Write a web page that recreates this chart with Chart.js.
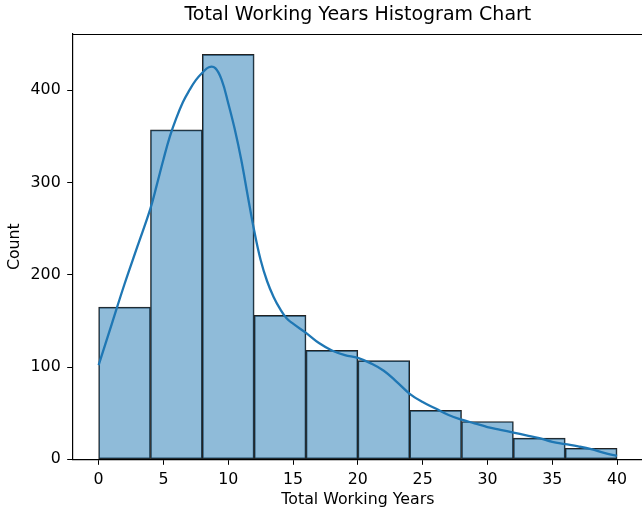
<!DOCTYPE html>
<html>
<head>
<meta charset="utf-8">
<script src="https://cdn.jsdelivr.net/npm/chart.js@4/dist/chart.umd.min.js"></script>
<style>
  html, body { margin: 0; padding: 0; background: #fff; overflow: hidden; }
  canvas { display: block; }
</style>
</head>
<body>
<canvas id="chart" width="643" height="514"></canvas>
<script>
// Histogram bins: left edge of each bin and its width (years)
const binStarts = [0, 4, 8, 12, 16, 20, 24, 28, 32, 36];
const binWidth = 4;
// Number of employees in each bin
const counts = [165, 357, 439, 156, 118, 107, 53, 41, 23, 12];

// Kernel density estimate, scaled to counts
const kdeX = [0, 1, 2, 3, 4, 4.5, 5, 5.5, 6, 6.5, 7, 7.5, 8, 8.5, 9, 9.5, 10, 10.5, 11, 11.5, 12, 12.5, 13, 13.5, 14, 14.5, 15,
              16, 17, 18, 19, 20, 21, 22, 23, 24, 25, 26, 27, 28, 29, 30, 31, 32, 33, 34, 35, 36, 37, 38, 39, 40];
const kdeY = [102, 146, 190, 231, 272, 298, 325, 350, 370, 387, 400, 411, 419, 425, 424, 411, 386, 358, 325, 286, 248, 216, 193, 176, 163, 153, 147,
              137, 126, 118, 113, 110, 104, 96, 84, 71, 62, 55, 48, 43, 39, 35, 32, 29, 26, 23, 19, 16.5, 14, 11, 7, 3.6];

// Axis ticks
const xTicks = [0, 5, 10, 15, 20, 25, 30, 35, 40];
const yTicks = [0, 100, 200, 300, 400];

const FONT = "'DejaVu Sans', sans-serif";
const LABEL_SIZE = 15.8;

// Draws the top edge of the plot frame
const frame = {
  id: 'frame',
  afterDatasetsDraw(chart) {
    const { ctx, chartArea: a } = chart;
    ctx.save();
    ctx.strokeStyle = '#000';
    ctx.lineWidth = 1.2;
    ctx.beginPath();
    ctx.moveTo(a.left, a.top + 0.5);
    ctx.lineTo(a.right, a.top + 0.5);
    ctx.stroke();
    ctx.restore();
  }
};

new Chart(document.getElementById('chart'), {
  type: 'bar',
  data: {
    datasets: [
      {
        type: 'line',
        data: kdeX.map((x, i) => ({ x, y: kdeY[i] })),
        borderColor: '#1f77b4',
        borderWidth: 2.3,
        pointRadius: 0,
        tension: 0.4,
        fill: false,
        order: 0
      },
      {
        type: 'bar',
        data: binStarts.map((s, i) => ({ x: s + binWidth / 2, y: counts[i] })),
        backgroundColor: 'rgba(31,119,180,0.5)',
        borderColor: '#222',
        borderWidth: 1,
        borderSkipped: false,
        barPercentage: 1,
        categoryPercentage: 1,
        order: 1
      }
    ]
  },
  plugins: [frame],
  options: {
    responsive: false,
    animation: false,
    devicePixelRatio: 1,
    layout: { padding: 0 },
    plugins: {
      legend: { display: false },
      tooltip: { enabled: false },
      title: {
        display: true,
        fullSize: false,
        text: 'Total Working Years Histogram Chart',
        color: '#000',
        font: { family: FONT, size: 19, weight: 'normal' },
        padding: { top: 3.6, bottom: 7.6 }
      }
    },
    scales: {
      x: {
        type: 'linear',
        min: -2,
        max: 42,
        offset: false,
        afterBuildTicks: s => { s.ticks = xTicks.map(v => ({ value: v })); },
        afterFit: s => { s.height = 54.7; },
        ticks: {
          color: '#000',
          font: { family: FONT, size: LABEL_SIZE },
          padding: 5.3,
          maxRotation: 0,
          autoSkip: false
        },
        grid: { display: true, drawOnChartArea: false, drawTicks: true, tickLength: 5.5, color: '#000', offset: false },
        border: { display: true, color: '#000', width: 1.2 },
        title: {
          display: true,
          text: 'Total Working Years',
          color: '#000',
          font: { family: FONT, size: LABEL_SIZE },
          padding: { top: 0, bottom: 4.5 }
        }
      },
      y: {
        type: 'linear',
        min: 0,
        max: 461,
        afterBuildTicks: s => { s.ticks = yTicks.map(v => ({ value: v })); },
        afterFit: s => { s.width = 72.7; },
        ticks: {
          color: '#000',
          font: { family: FONT, size: LABEL_SIZE },
          padding: 6.5
        },
        grid: { display: true, drawOnChartArea: false, drawTicks: true, tickLength: 5.5, color: '#000' },
        border: { display: true, color: '#000', width: 1.2 },
        title: {
          display: true,
          text: 'Count',
          color: '#000',
          font: { family: FONT, size: LABEL_SIZE },
          padding: { top: 5.5, bottom: 0 }
        }
      }
    }
  }
});
</script>
</body>
</html>
